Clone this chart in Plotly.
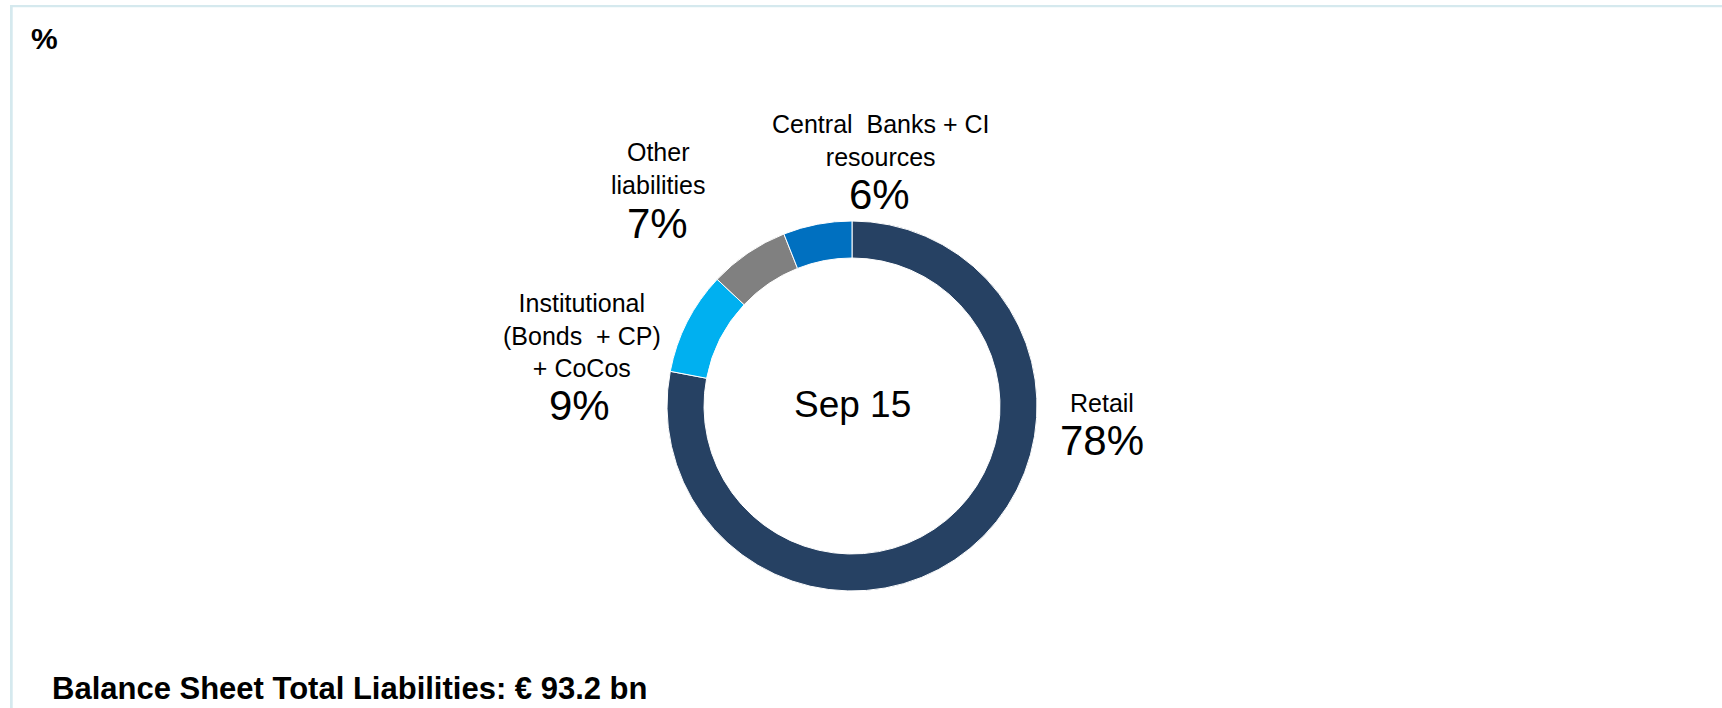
import plotly.graph_objects as go

# Liability structure, Sep 15 (% of balance sheet total liabilities)
categories = ["Retail", "Institutional<br>(Bonds&nbsp; + CP)<br>+ CoCos", "Other<br>liabilities",
              "Central&nbsp; Banks + CI<br>resources"]
shares = [78, 9, 7, 6]
colors = ["#264163", "#00B0F0", "#808080", "#0070C0"]
center_label = "Sep 15"
unit_label = "%"
footnote = "Balance Sheet Total Liabilities: € 93.2 bn"

W, H = 1722, 708
FONT = "Arial, 'Liberation Sans', sans-serif"


def px(x):
    return x / W


def py(y):
    return 1 - y / H


# donut geometry in pixels
cx, cy, r = 852, 406, 185

fig = go.Figure(go.Pie(
    labels=[c.replace("<br>", " ").replace("&nbsp;", "") for c in categories],
    values=shares,
    hole=0.8,
    sort=False,
    direction="clockwise",
    rotation=0,
    marker=dict(colors=colors, line=dict(color="white", width=1)),
    textinfo="none",
    hoverinfo="label+percent",
    domain=dict(x=[px(cx - r), px(cx + r)], y=[py(cy + r), py(cy - r)]),
    showlegend=False,
))

# label block positions (category text centre, percent centre) in pixels
label_pos = [
    ((1102, 403), (1102, 440)),
    ((582, 335), (579, 405)),
    ((658, 168), (657, 223)),
    ((880, 140), (879, 195)),
]

annotations = []
for cat, val, ((lx, ly), (vx, vy)) in zip(categories, shares, label_pos):
    annotations.append(dict(x=px(lx), y=py(ly), xref="paper", yref="paper", text=cat,
                            showarrow=False, xanchor="center", yanchor="middle",
                            font=dict(family=FONT, size=25, color="#000000")))
    annotations.append(dict(x=px(vx), y=py(vy), xref="paper", yref="paper", text=f"{val}%",
                            showarrow=False, xanchor="center", yanchor="middle",
                            font=dict(family=FONT, size=42, color="#000000")))

annotations.append(dict(x=px(852), y=py(404), xref="paper", yref="paper", text=center_label,
                        showarrow=False, xanchor="center", yanchor="middle",
                        font=dict(family=FONT, size=37, color="#000000")))
annotations.append(dict(x=px(44), y=py(39), xref="paper", yref="paper", text=f"<b>{unit_label}</b>",
                        showarrow=False, xanchor="center", yanchor="middle",
                        font=dict(family=FONT, size=30, color="#000000")))
annotations.append(dict(x=px(50), y=py(688), xref="paper", yref="paper",
                        text=f"<b>{footnote}</b>", showarrow=False,
                        xanchor="left", yanchor="middle",
                        font=dict(family=FONT, size=31, color="#000000")))

# frame lines along the top and left edges
border = "#d5e9ee"
shapes = [
    dict(type="rect", xref="paper", yref="paper", x0=px(10), x1=1, y0=py(7.3), y1=py(5),
         fillcolor=border, line=dict(width=0), layer="below"),
    dict(type="rect", xref="paper", yref="paper", x0=px(10), x1=px(12.7), y0=0, y1=py(5),
         fillcolor=border, line=dict(width=0), layer="below"),
]

fig.update_layout(
    width=W, height=H,
    margin=dict(l=0, r=0, t=0, b=0),
    paper_bgcolor="white", plot_bgcolor="white",
    annotations=annotations,
    shapes=shapes,
)

fig.write_html("out.html", config={"displayModeBar": False})
